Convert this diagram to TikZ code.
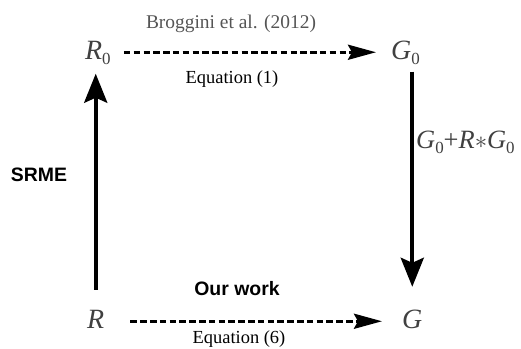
\documentclass[tikz,border=0pt]{standalone}
\usepackage{fontspec}
\setmainfont{Liberation Serif}
\setsansfont{Liberation Sans}
\usetikzlibrary{arrows.meta}
\definecolor{lettergray}{HTML}{404040}
\definecolor{citegray}{HTML}{555555}
\newcommand\lowsub[1]{\raisebox{-0.2em}{\upshape\fontsize{17}{17}\selectfont #1}}
\begin{document}
\begin{tikzpicture}[x=1bp,y=-1bp,
  sym/.style={font=\fontsize{28}{32}\selectfont\itshape, text=lettergray, inner sep=0pt, text height=18.5bp, text depth=5bp, anchor=base west},
  captext/.style={font=\fontsize{18.5}{20}\selectfont, inner sep=0pt, anchor=base},
  boldlabel/.style={font=\fontsize{19.5}{22}\selectfont\sffamily\bfseries, inner sep=0pt, anchor=base},
  dasharrow/.style={line width=3.3bp, dash pattern=on 6.5bp off 3.3bp, -{Stealth[length=28bp,width=15bp,inset=4bp]}},
  solidarrow/.style={line width=4bp, -{Stealth[length=29bp,width=23bp,inset=5bp]}}]
\useasboundingbox (0,0) rectangle (521,348);
\node[sym] (R0) at (85,59) {R\lowsub{0}};
\node[sym] (G0) at (391,59) {G\lowsub{0}};
\node[sym] (R) at (87,328) {R};
\node[sym] (G) at (402,328) {G};
\draw[dasharrow, shorten <=13bp, shorten >=15bp] (R0.east) -- (G0.west);
\draw[dasharrow, shorten <=26bp, shorten >=20bp] (R.east) -- (G.west);
\draw[solidarrow, shorten <=19.5bp, shorten >=9.5bp] (R.north) -- (R.north |- R0.south);
\draw[solidarrow, shorten <=7.5bp, shorten >=22.5bp] (G.north |- G0.south) -- (G.north);
\node[captext, text=citegray, font=\fontsize{19.5}{21}\selectfont] (cite) at (231,28) {Broggini et al. (2012)};
\node[captext] (eq1) at (232,83) {Equation (1)};
\node[captext] (eq6) at (239,343) {Equation (6)};
\node[boldlabel] (ours) at (237,295) {Our work};
\node[boldlabel] (srme) at (39,181) {SRME};
\node[inner sep=0pt, anchor=base west, text=lettergray, font=\fontsize{26.5}{30}\selectfont] (conv) at (416,148) {\textit{G}\lowsub{0}+\textit{R}$\ast$\textit{G}\lowsub{0}};
\end{tikzpicture}
\end{document}
